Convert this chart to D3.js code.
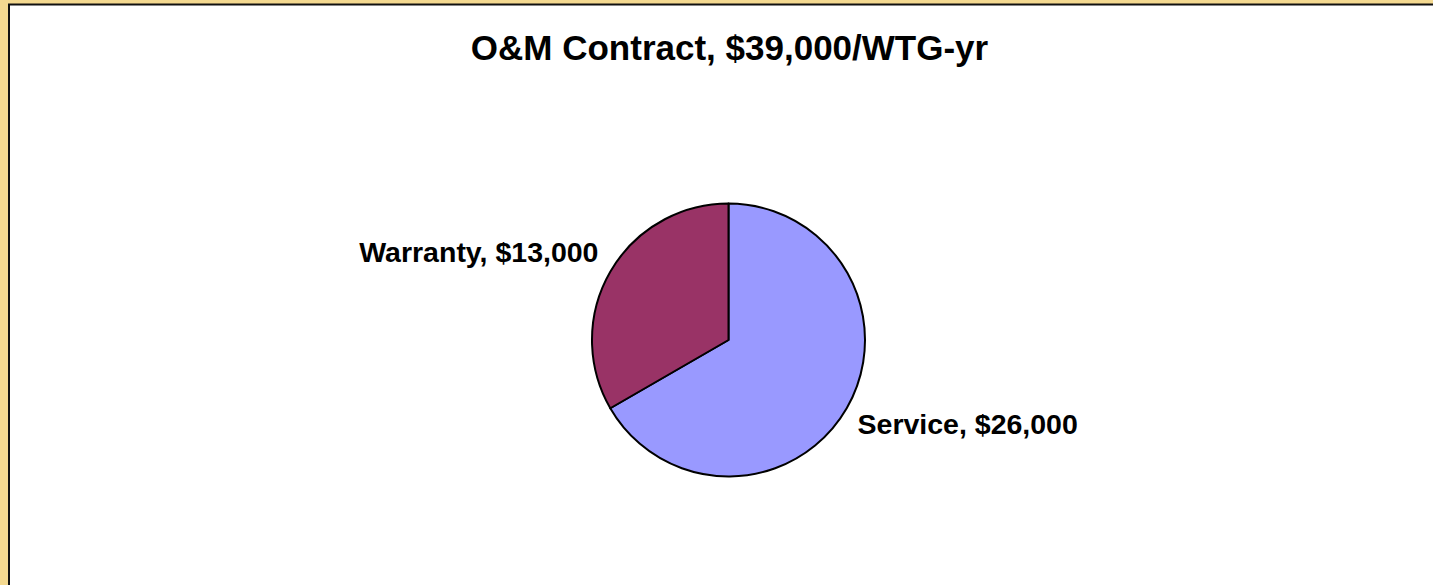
<!DOCTYPE html>
<html>
<head>
<meta charset="utf-8">
<script src="https://cdn.jsdelivr.net/npm/d3@7"></script>
<style>
  html, body { margin: 0; padding: 0; background: #F4D990; overflow: hidden; }
  svg { display: block; }
</style>
</head>
<body>
<script>
// O&M contract split, pie chart

var categories = ["Service", "Warranty"];
var values = [26000, 13000];
var labels = ["Service, $26,000", "Warranty, $13,000"];
var colors = ["#9999FF", "#993366"];
var title = "O&M Contract, $39,000/WTG-yr";

var svgWidth = 1433;
var svgHeight = 585;

var svg = d3.select("body")
  .append("svg")
  .attr("width", svgWidth)
  .attr("height", svgHeight);

// gold surround + dark frame, white plot area running off the right/bottom
svg.append("rect")
  .attr("x", 0).attr("y", 0)
  .attr("width", svgWidth).attr("height", svgHeight)
  .attr("fill", "#F4D990");

svg.append("rect")
  .attr("x", 9).attr("y", 4.5)
  .attr("width", svgWidth + 100).attr("height", svgHeight + 100)
  .attr("fill", "#ffffff")
  .attr("stroke", "#111")
  .attr("stroke-width", 2);

svg.append("text")
  .attr("x", 729.5)
  .attr("y", 60)
  .attr("text-anchor", "middle")
  .style("font-family", "Liberation Sans, Arial, sans-serif")
  .style("font-weight", "bold")
  .style("font-size", "35px")
  .text(title);

var cx = 728.5, cy = 340, radius = 136.5;

var data = categories.map(function (c, i) {
  return { name: c, value: values[i], label: labels[i], color: colors[i] };
});

var pie = d3.pie()
  .sort(null)
  .value(function (d) { return d.value; });

var arc = d3.arc().innerRadius(0).outerRadius(radius);
var labelArc = d3.arc().innerRadius(radius * 1.1).outerRadius(radius * 1.1);

var pieGroup = svg.append("g")
  .attr("transform", "translate(" + cx + "," + cy + ")");

var arcs = pie(data);

pieGroup.selectAll("path")
  .data(arcs)
  .enter()
  .append("path")
  .attr("d", arc)
  .attr("fill", function (d) { return d.data.color; })
  .attr("stroke", "#000")
  .attr("stroke-width", 2)
  .attr("stroke-linejoin", "round");

pieGroup.selectAll("text.label")
  .data(arcs)
  .enter()
  .append("text")
  .attr("class", "label")
  .each(function (d) {
    var p = labelArc.centroid(d);
    var right = p[0] > 0;
    var below = p[1] > 0;
    d3.select(this)
      .attr("x", right ? p[0] - 1 : p[0])
      .attr("y", below ? p[1] + 19 : p[1] - 3)
      .attr("text-anchor", right ? "start" : "end");
  })
  .style("font-family", "Liberation Sans, Arial, sans-serif")
  .style("font-weight", "bold")
  .style("font-size", "28.5px")
  .text(function (d) { return d.data.label; });
</script>
</body>
</html>
